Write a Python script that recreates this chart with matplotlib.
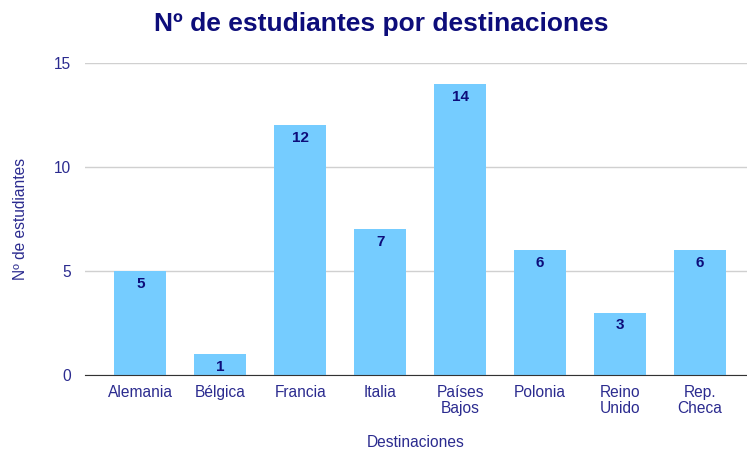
import matplotlib
matplotlib.use('Agg')
import matplotlib.pyplot as plt

# Data
destinos = ['Alemania', 'Bélgica', 'Francia', 'Italia', 'Países\nBajos',
            'Polonia', 'Reino\nUnido', 'Rep.\nCheca']
estudiantes = [5, 1, 12, 7, 14, 6, 3, 6]

plt.rcParams['font.family'] = ['Liberation Sans', 'DejaVu Sans']

navy = '#0d0d7a'
tick_col = '#2b2b8f'
bar_col = '#75ccff'

fig = plt.figure(figsize=(7.47, 4.54), dpi=100)
ax = fig.add_axes([0.114, 0.174, 0.886, 0.687])

x = range(len(destinos))
bars = ax.bar(x, estudiantes, width=0.65, color=bar_col, zorder=3)

for xi, v in zip(x, estudiantes):
    ax.text(xi, v - 0.28, str(v), ha='center', va='top', fontsize=11,
            fontweight='bold', color=navy, zorder=4)

ax.set_xlim(-0.69, 7.59)
ax.set_ylim(0, 15)
ax.set_yticks([0, 5, 10, 15])
ax.set_xticks(list(x))
ax.set_xticklabels(destinos, fontsize=11.2, color=tick_col, linespacing=1.1)
ax.tick_params(axis='y', labelsize=11.2, labelcolor=tick_col, length=0, pad=10)
ax.tick_params(axis='x', length=0, pad=7)

ax.grid(axis='y', color='#d0d0d0', lw=1, zorder=0)
for s in ['top', 'right', 'left']:
    ax.spines[s].set_visible(False)
ax.spines['bottom'].set_color('#333333')
ax.spines['bottom'].set_zorder(5)

ax.set_xlabel('Destinaciones', fontsize=11.2, color=tick_col, labelpad=14)
ax.set_ylabel('Nº de estudiantes', fontsize=11.2, color=tick_col, labelpad=19)
fig.text(0.51, 0.947, 'Nº de estudiantes por destinaciones', ha='center',
         va='center', fontsize=19, fontweight='bold', color=navy)

plt.savefig('out.png', dpi=100)
